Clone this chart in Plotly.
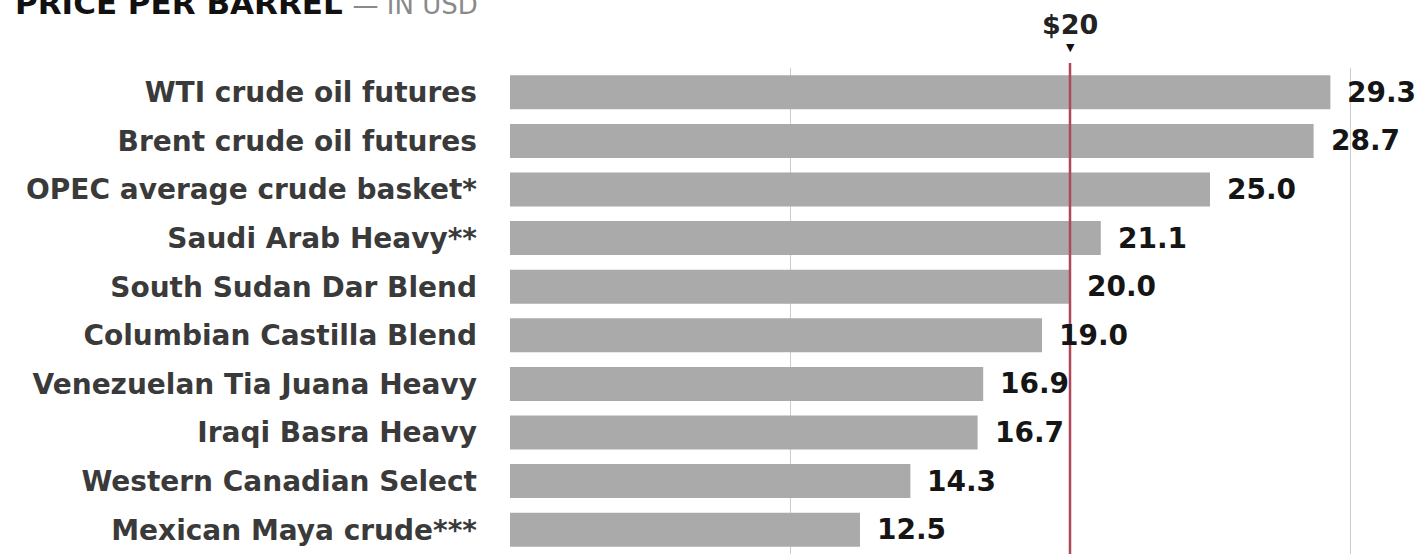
import plotly.graph_objects as go

categories = [
    "WTI crude oil futures",
    "Brent crude oil futures",
    "OPEC average crude basket*",
    "Saudi Arab Heavy**",
    "South Sudan Dar Blend",
    "Columbian Castilla Blend",
    "Venezuelan Tia Juana Heavy",
    "Iraqi Basra Heavy",
    "Western Canadian Select",
    "Mexican Maya crude***",
]
prices = [29.3, 28.7, 25.0, 21.1, 20.0, 19.0, 16.9, 16.7, 14.3, 12.5]
value_labels = ["29.3", "28.7", "25.0", "21.1", "20.0", "19.0", "16.9", "16.7", "14.3", "12.5"]
reference_price = 20
reference_label = "$20"
grid_vals = [10, 30]

W, H = 1425, 554
M_TOP, M_BOT = 68, 0
plot_h = H - M_TOP - M_BOT


def py(pix):
    return (H - M_BOT - pix) / plot_h


fig = go.Figure()
fig.add_trace(go.Bar(
    x=prices, y=categories, orientation="h",
    marker=dict(color="#aaaaaa", line=dict(width=0)),
    hoverinfo="skip",
))

for c, v, t in zip(categories, prices, value_labels):
    fig.add_annotation(x=v, y=c, xref="x", yref="y", text=t, showarrow=False,
                       xanchor="left", yanchor="middle", xshift=15,
                       font=dict(family="DejaVu Sans", size=28, color="#151515", weight="bold"))

fig.add_shape(type="line", x0=reference_price, x1=reference_price, xref="x",
              y0=0, y1=py(63), yref="paper", line=dict(color="#b0475a", width=2.5), layer="above")
fig.add_annotation(x=reference_price, y=py(48), xref="x", yref="paper", text="▼", showarrow=False,
                   xanchor="center", yanchor="middle",
                   font=dict(family="DejaVu Sans", size=11, color="#111"))
fig.add_annotation(x=reference_price, y=py(25), xref="x", yref="paper", text=reference_label,
                   showarrow=False, xanchor="center", yanchor="middle",
                   font=dict(family="DejaVu Sans", size=27, color="#222", weight="bold"))

fig.add_annotation(x=0, y=py(3), xref="paper", yref="paper", xanchor="left", yanchor="middle",
                   xshift=-510 + 13, showarrow=False,
                   text="<b>PRICE PER BARREL</b> <span style='font-size:26px;color:#8a8a8a'>— IN USD</span>",
                   font=dict(family="DejaVu Sans", size=31, color="#111"))

fig.update_layout(
    width=W, height=H,
    margin=dict(l=510, r=5, t=M_TOP, b=M_BOT, pad=0),
    paper_bgcolor="white", plot_bgcolor="white",
    bargap=0.3, showlegend=False,
    xaxis=dict(range=[0, 32.5], tickvals=grid_vals, showticklabels=False, showgrid=True,
               gridcolor="rgba(0,0,0,0.2)", gridwidth=1, zeroline=False, layer="above traces",
               fixedrange=True),
    yaxis=dict(autorange="reversed", showgrid=False, zeroline=False, ticks="",
               ticklabelstandoff=32, automargin=False,
               tickfont=dict(family="DejaVu Sans", size=28, color="#3a3a3a", weight="bold")),
)

fig.write_html("out.html")
